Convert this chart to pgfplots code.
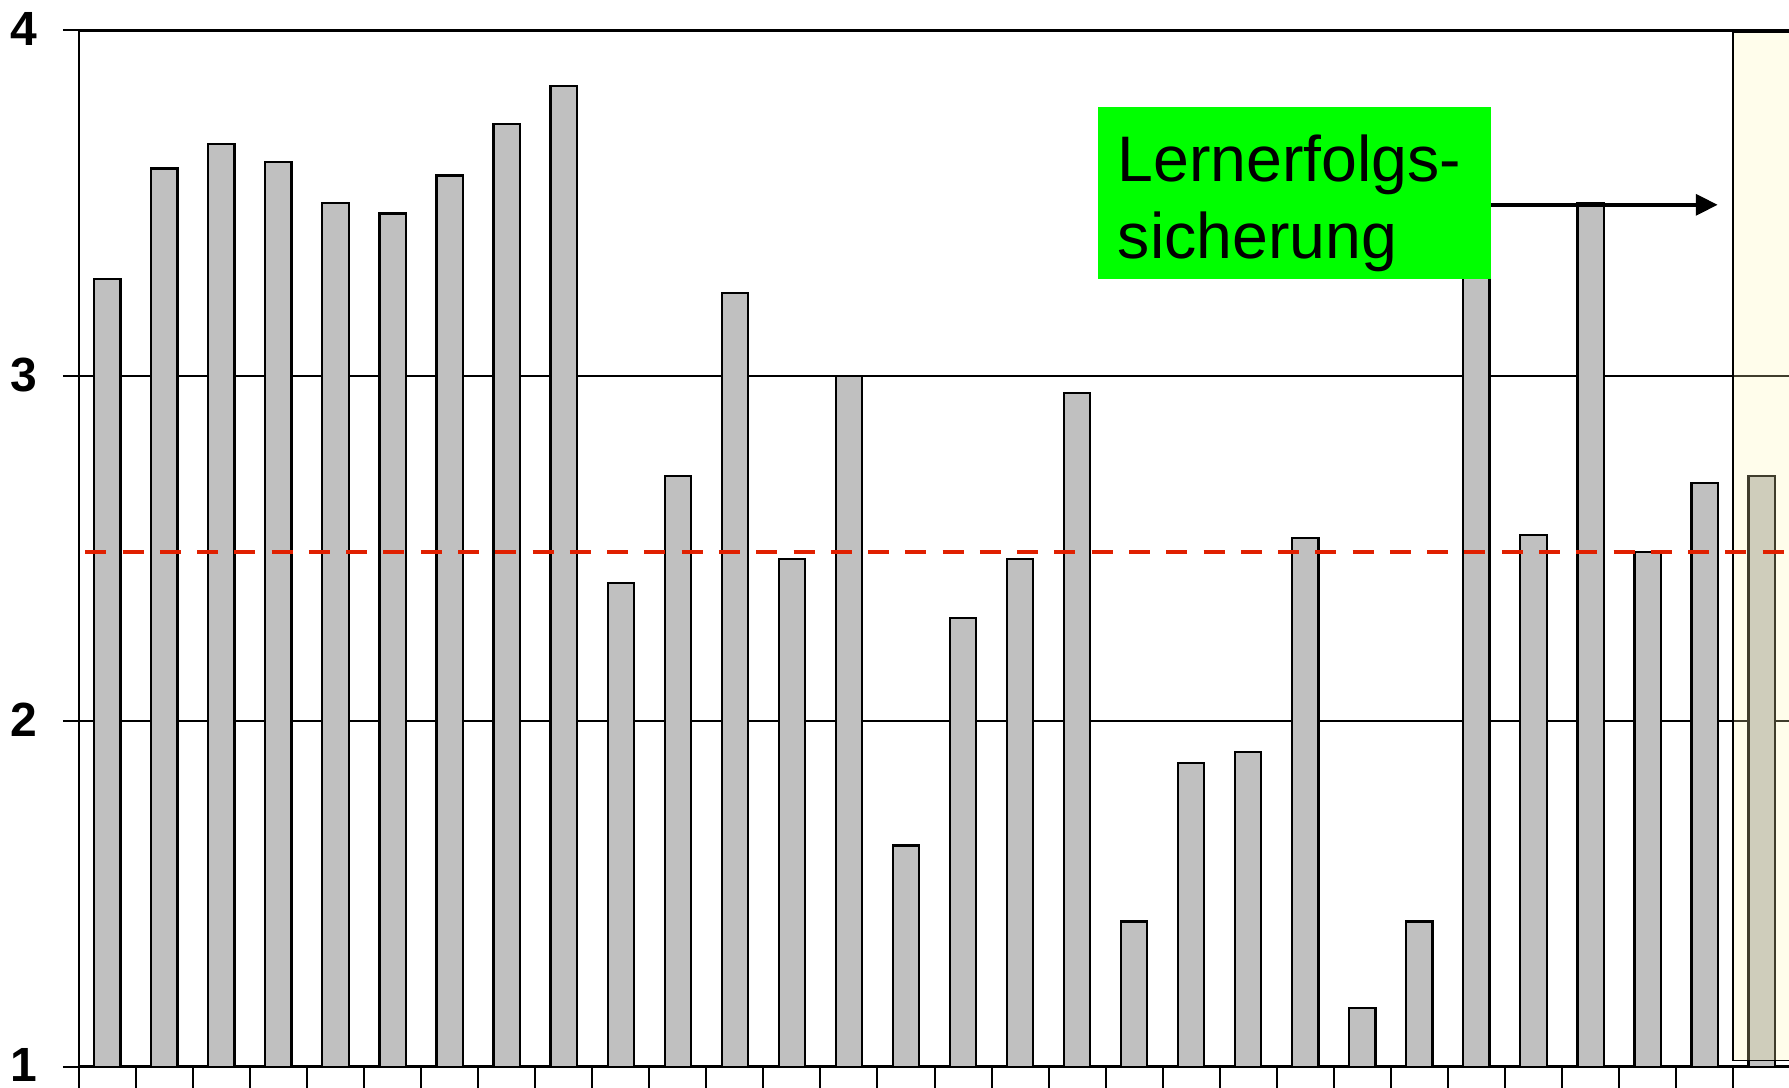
\documentclass[border=0pt]{standalone}
\usepackage{fontspec}
\setmainfont{Liberation Sans}
\usepackage{pgfplots}
\pgfplotsset{compat=1.18}
\usetikzlibrary{arrows.meta}

\definecolor{barfill}{RGB}{192,192,192}
\definecolor{meanred}{RGB}{224,32,0}
\definecolor{boxgreen}{RGB}{0,255,0}
\definecolor{boxyellow}{RGB}{255,247,176}

\begin{document}
\begin{tikzpicture}
\begin{axis}[
    name=ax,
    scale only axis,
    width=427.9pt, height=259.1pt,
    xmin=-0.5, xmax=29.5,
    ymin=1, ymax=4,
    axis lines*=left,
    axis line style={line width=0.6pt},
    ytick={1,2,3,4},
    xtick={-0.5,0.5,...,29.5},
    xticklabels={},
    tick align=outside,
    major tick length=4pt,
    x tick style={/pgfplots/major tick length=8pt},
    tick style={black, line width=0.5pt},
    ymajorgrids,
    grid style={black, line width=0.45pt},
    yticklabel style={font=\fontsize{12}{12}\selectfont\bfseries, inner sep=0pt, xshift=-6.2pt, yshift=0.3pt},
    /pgf/number format/assume math mode=true,
    ybar, bar width=0.46,
]

% mean score per item
\addplot[fill=barfill, draw=black, line width=0.55pt] coordinates {
    (0,3.28) (1,3.60) (2,3.67) (3,3.62) (4,3.50) (5,3.47) (6,3.58) (7,3.73)
    (8,3.84) (9,2.40) (10,2.71) (11,3.24) (12,2.47) (13,3.00) (14,1.64)
    (15,2.30) (16,2.47) (17,2.95) (18,1.42) (19,1.88) (20,1.91) (21,2.53)
    (22,1.17) (23,1.42) (24,3.50) (25,2.54) (26,3.50) (27,2.49) (28,2.69)
    (29,2.71)
};

% top border line
\draw[black, line width=0.7pt] (axis cs:-0.5,4) -- (axis cs:29.5,4);

% highlighted last item
\fill[boxyellow, fill opacity=0.25] (axis cs:28.5,1.017) rectangle (axis cs:30,3.993);
\draw[black, line width=0.35pt] (axis cs:30,1.017) -- (axis cs:28.5,1.017)
    -- (axis cs:28.5,3.993) -- (axis cs:30,3.993);

% overall mean
\addplot[sharp plot, no marks, meanred, line width=1.1pt,
    dash pattern=on 5.25pt off 4.07pt, dash phase=7.7pt, forget plot]
    coordinates {(-0.5,2.49) (29.5,2.49)};

% annotation
\fill[boxgreen] (axis cs:17.37,3.279) rectangle (axis cs:24.26,3.778);
\node[anchor=base west, inner sep=0pt, font=\fontsize{16.1}{19}\selectfont]
    at (axis cs:17.70,3.563) {Lernerfolgs-};
\node[anchor=base west, inner sep=0pt, font=\fontsize{16.1}{19}\selectfont]
    at (axis cs:17.70,3.341) {sicherung};
\draw[black, line width=1.1pt, -{Triangle[length=5.5pt, width=5.2pt]}]
    (axis cs:24.26,3.495) -- (axis cs:28.23,3.495);

\end{axis}
\pgfresetboundingbox
\path[use as bounding box] ([shift={(-19.7pt,-5.3pt)}]ax.south west)
    rectangle ([shift={(-0.3pt,7.6pt)}]ax.north east);
\end{tikzpicture}
\end{document}
